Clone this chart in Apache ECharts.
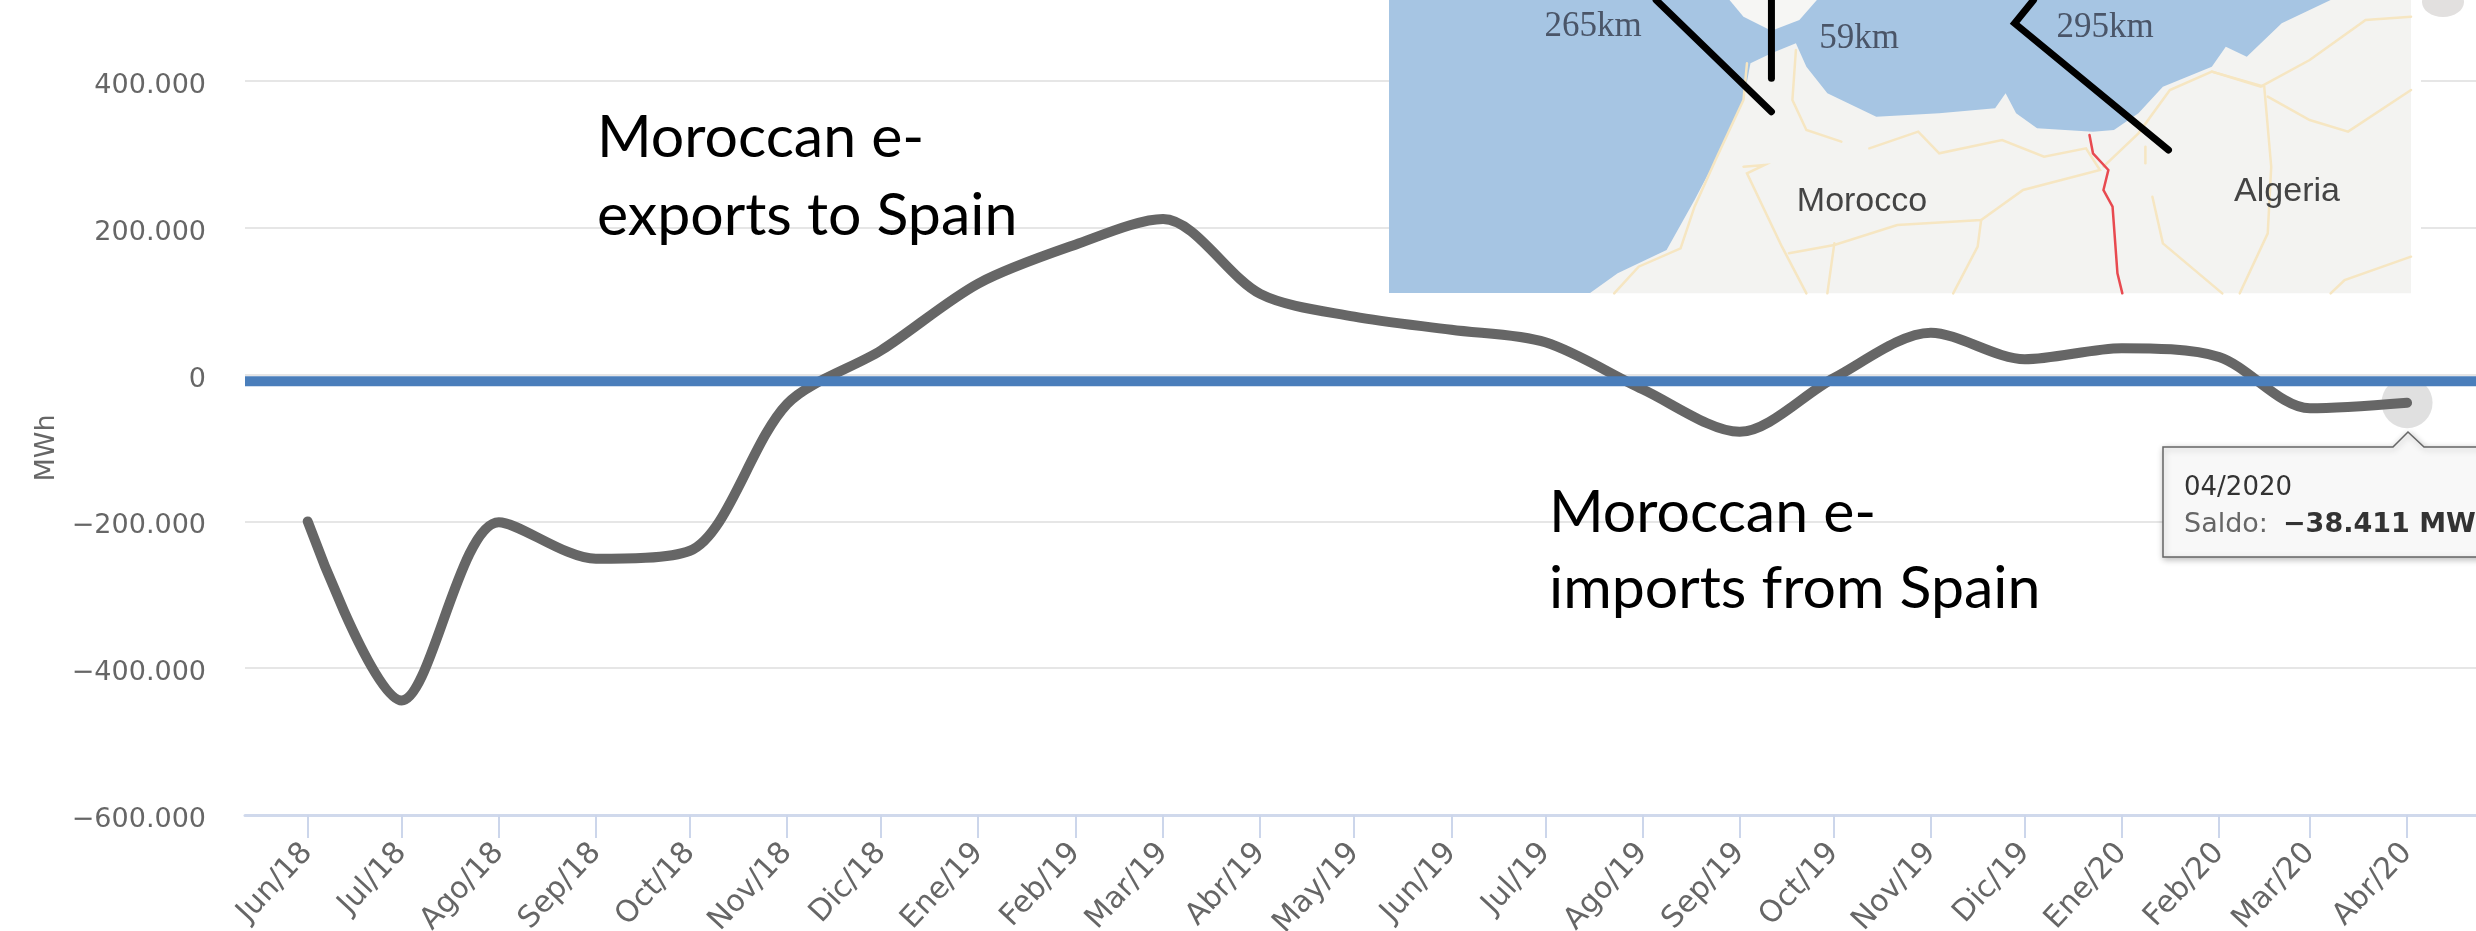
<!DOCTYPE html>
<html><head><meta charset="utf-8">
<style>html,body{margin:0;padding:0;background:#fff;overflow:hidden}#c{width:2476px;height:931px}</style>
<script src="https://cdn.jsdelivr.net/npm/echarts@6/dist/echarts.min.js"></script>
</head><body><div id="c"></div>
<script>
const tickLabels = ['Jun/18','Jul/18','Ago/18','Sep/18','Oct/18','Nov/18','Dic/18','Ene/19','Feb/19','Mar/19','Abr/19','May/19','Jun/19','Jul/19','Ago/19','Sep/19','Oct/19','Nov/19','Dic/19','Ene/20','Feb/20','Mar/20','Abr/20'];
const months = ['2018-06-01','2018-07-01','2018-08-01','2018-09-01','2018-10-01','2018-11-01','2018-12-01','2019-01-01','2019-02-01','2019-03-01','2019-04-01','2019-05-01','2019-06-01','2019-07-01','2019-08-01','2019-09-01','2019-10-01','2019-11-01','2019-12-01','2020-01-01','2020-02-01','2020-03-01','2020-04-01'];
const saldo = [-200000,-444000,-201000,-251000,-240000,-40000,33000,124000,177000,212000,110000,79000,61000,44000,-20000,-78000,-5000,57000,21000,36000,24000,-46000,-38411];
const baselineLevel = -9000;
const xStart = '2018-05-12', xEnd = '2020-04-23';

const ts = months.map(m => Date.parse(m));
const fmt = v => (v < 0 ? '\u2212' : '') + String(Math.abs(v)).replace(/\B(?=(\d{3})+$)/g, '.');
const mp = pts => pts.map(([x, y]) => [1380 + x * 0.699, y / 3]);
const poly = (pts, fill, z) => ({type:'polygon', z:z||50, silent:true, shape:{points:mp(pts)}, style:{fill}});
const line = (pts, stroke, w, z) => ({type:'polyline', z:z||52, silent:true, shape:{points:mp(pts)}, style:{stroke, lineWidth:w, fill:null, lineCap:'round', lineJoin:'miter'}});
const txt = (x, y, text, font, fill, z, extra) => ({type:'text', z:z||55, silent:true, x, y, style:Object.assign({text, font, fill, textAlign:'center', textVerticalAlign:'middle'}, extra||{})});
const note = (x, y, text) => txt(x, y, text, '59px Lato', '#000', 60, {textAlign:'left'});
const road = '#f6e6c2';

const chart = echarts.init(document.getElementById('c'), null, {renderer:'canvas'});
chart.setOption({
  animation:false,
  backgroundColor:'#fff',
  grid:{left:245, right:0, top:81, height:734, outerBoundsMode:'none', containLabel:false},
  xAxis:{type:'value', min:Date.parse(xStart), max:Date.parse(xEnd),
    splitLine:{show:false}, minorTick:{show:false},
    axisLine:{show:true, onZero:false, lineStyle:{color:'#d0d9ec', width:3}},
    axisTick:{show:true, length:23, customValues:ts, lineStyle:{color:'#ccd6eb', width:2}},
    axisLabel:{customValues:ts, rotate:47, margin:33, fontFamily:'DejaVu Sans', fontSize:30, color:'#666',
      hideOverlap:false, showMinLabel:true, showMaxLabel:true,
      formatter:v => tickLabels[ts.indexOf(+v)] || ''}},
  yAxis:{type:'value', min:-600000, max:400000, interval:200000,
    name:'MWh', nameLocation:'middle', nameGap:172, nameRotate:90,
    nameTextStyle:{fontFamily:'DejaVu Sans', fontSize:27, color:'#666'},
    axisLine:{show:false}, axisTick:{show:false},
    splitLine:{lineStyle:{color:'#e6e6e6', width:2}},
    axisLabel:{margin:39, verticalAlign:'top', lineHeight:10, fontFamily:'DejaVu Sans', fontSize:27, color:'#666', formatter:fmt}},
  series:[
    {type:'scatter', name:'Halo', z:1, silent:true, symbol:'circle', symbolSize:51,
      itemStyle:{color:'#d8d8d8'}, data:[[ts[ts.length-1], saldo[saldo.length-1]]]},
    {type:'line', name:'Saldo', z:2, smooth:0.3, symbol:'none', silent:true,
      lineStyle:{color:'#666', width:10, cap:'round', join:'round'},
      data:ts.map((t,i)=>[t,saldo[i]])},
    {type:'line', name:'Baseline', z:3, symbol:'none', silent:true,
      lineStyle:{color:'#4a7ebb', width:10, cap:'butt'},
      data:[[Date.parse(xStart),baselineLevel],[Date.parse(xEnd),baselineLevel]]}
  ],
  graphic:[
    {type:'rect', z:48, silent:true, shape:{x:1389,y:0,width:1032,height:301}, style:{fill:'#fff'}},
    {type:'rect', z:49, silent:true, shape:{x:1389,y:0,width:1022,height:293}, style:{fill:'#a6c5e3'}},
    poly([[300,880],[340,820],[410,750],[450,600],[480,480],[520,300],[530,190],[560,160],[595,130],[610,200],[640,280],[710,350],[800,340],[880,325],[895,280],[910,340],[940,385],[1020,395],[1050,390],[1085,340],[1120,260],[1190,200],[1210,140],[1240,170],[1290,70],[1360,0],[1475,0],[1475,880]],'#f3f3f1'),
    poly([[500,0],[520,50],[560,92],[600,60],[625,0]],'#f6f6f4'),
    line([[525,190],[520,300],[480,480],[450,620],[430,745],[370,800],[335,880]],road,2.5,51),
    line([[595,150],[590,300],[610,390],[660,425]],road,2.5,51),
    line([[700,445],[770,395],[800,460],[890,420],[950,470],[1010,445],[1030,510],[920,570],[860,660],[740,675],[650,735],[585,760]],road,2.5,51),
    line([[520,500],[550,495],[525,520],[575,740],[610,880]],road,2.5,51),
    line([[650,730],[640,880]],road,2.5,51),
    line([[860,660],[855,740],[820,880]],road,2.5,51),
    line([[1035,500],[1085,400],[1130,270],[1190,215],[1260,260],[1330,180],[1410,60],[1475,50]],road,2.5,51),
    line([[1190,215],[1265,260],[1275,500],[1270,700],[1230,880]],road,2.5,51),
    line([[1270,290],[1330,360],[1385,395],[1475,270]],road,2.5,51),
    line([[1105,590],[1120,730],[1205,880]],road,2.5,51),
    line([[1095,440],[1095,490]],road,2.5,51),
    line([[1360,880],[1380,840],[1475,770]],road,2.5,51),
    line([[1015,405],[1020,460],[1042,510],[1035,570],[1048,620],[1055,820],[1062,880]],'#e84a50',2.5),
    line([[395,0],[560,335]],'#000',7,53),
    line([[560,0],[560,235]],'#000',7,53),
    line([[935,0],[908,70],[1128,450]],'#000',7,53),
    txt(1593,27,'265km','35px "Liberation Serif"','#4a5568'),
    txt(1859,39,'59km','35px "Liberation Serif"','#4a5568'),
    txt(2105,28,'295km','35px "Liberation Serif"','#4a5568'),
    txt(1862,202,'Morocco','34px "Liberation Sans"','#444'),
    txt(2287,192,'Algeria','34px "Liberation Sans"','#444'),
    {type:'ellipse', z:50, silent:true, shape:{cx:2443,cy:2,rx:21,ry:15}, style:{fill:'#e2e0df'}},
    note(597,138,'Moroccan e-'),
    note(597,216,'exports to Spain'),
    note(1549,513,'Moroccan e-'),
    note(1549,589,'imports from Spain'),
    {type:'polygon', z:70, silent:true,
      shape:{points:[[2163,447],[2393,447],[2408,432],[2424,447],[2500,447],[2500,557],[2163,557]]},
      style:{fill:'#f8f8f8', stroke:'#666', lineWidth:1.5, shadowBlur:6, shadowColor:'rgba(0,0,0,0.25)', shadowOffsetX:1, shadowOffsetY:2}},
    {type:'text', z:71, silent:true, x:2184, y:488, style:{text:'04/2020', font:'26px "DejaVu Sans"', fill:'#333', textAlign:'left', textVerticalAlign:'middle'}},
    {type:'text', z:71, silent:true, x:2184, y:525, style:{text:'Saldo: ', font:'27px "DejaVu Sans"', fill:'#666', textAlign:'left', textVerticalAlign:'middle'}},
    {type:'text', z:71, silent:true, x:2283, y:525, style:{text:'\u221238.411 MWh', font:'bold 27px "DejaVu Sans"', fill:'#333', textAlign:'left', textVerticalAlign:'middle'}}
  ]
});
</script></body></html>
